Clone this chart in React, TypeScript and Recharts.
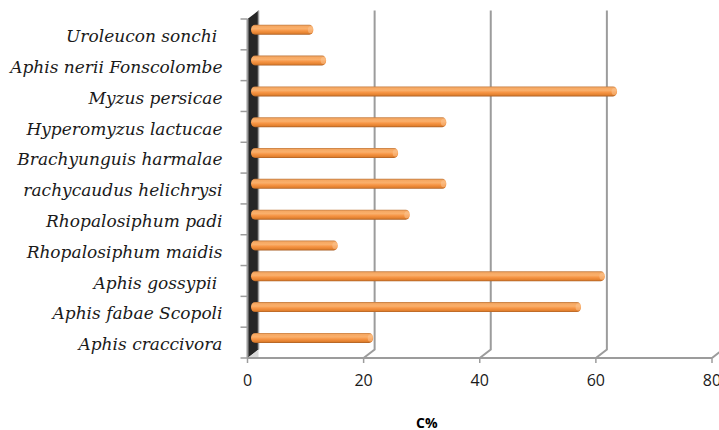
import { Bar, BarChart, CartesianGrid, Label, XAxis, YAxis } from 'recharts'

// aphid species, top to bottom as in the figure
const SPECIES = [
  'Uroleucon sonchi\u00a0',
  'Aphis nerii Fonscolombe',
  'Myzus persicae',
  'Hyperomyzus lactucae',
  'Brachyunguis harmalae',
  'rachycaudus helichrysi',
  'Rhopalosiphum padi',
  'Rhopalosiphum maidis',
  'Aphis gossypii\u00a0',
  'Aphis fabae Scopoli',
  'Aphis craccivora',
]
const CONTENT = [10.4, 12.6, 62.7, 33.3, 25.0, 33.3, 27.0, 14.6, 60.6, 56.5, 20.7]
const X_TICKS = [0, 20, 40, 60, 80]

const DEPTH_X = 11
const DEPTH_Y = 8.5
const GRID = '#9c9c9c'

const data = SPECIES.map((name, i) => ({ name, value: CONTENT[i] }))

function CylinderBar(props: any) {
  const { x, y, width, height } = props
  const bx = x + DEPTH_X / 2
  const by = y - DEPTH_Y / 2
  const r = height / 2
  return (
    <g>
      <defs>
        <linearGradient id="cyl" x1="0" y1="0" x2="0" y2="1">
          <stop offset="0" stopColor="#c07a40" />
          <stop offset="0.15" stopColor="#f6a862" />
          <stop offset="0.4" stopColor="#fab06c" />
          <stop offset="0.6" stopColor="#f79646" />
          <stop offset="0.85" stopColor="#e3812f" />
          <stop offset="1" stopColor="#a85e24" />
        </linearGradient>
      </defs>
      <rect x={bx - 2} y={by} width={width + 2} height={height} rx={4} ry={r} fill="url(#cyl)" />
      <ellipse cx={bx + width - 3} cy={by + r} rx={2.5} ry={r - 1.5} fill="#fcc592" opacity={0.55} />
    </g>
  )
}

function GridLine(props: any) {
  const { x1, y1, y2, index } = props
  if (index === 0) {
    // left side wall of the 3-D plot
    return (
      <g key={`wall`}>
        <polygon
          points={`${x1},${y1} ${x1 + DEPTH_X},${y1 - DEPTH_Y} ${x1 + DEPTH_X},${y2 - DEPTH_Y} ${x1},${y2}`}
          fill="#262626"
        />
        <line x1={x1 + DEPTH_X} y1={y1 - DEPTH_Y} x2={x1 + DEPTH_X} y2={y2 - DEPTH_Y} stroke={GRID} strokeWidth={1.5} />
        <polygon
          points={`${x1},${y2} ${x1 + DEPTH_X},${y2 - DEPTH_Y} ${x1 + DEPTH_X},${y2}`}
          fill="#d9d9d9"
        />
      </g>
    )
  }
  return (
    <path
      key={`grid-${index}`}
      d={`M${x1 + DEPTH_X},${y1 - DEPTH_Y} L${x1 + DEPTH_X},${y2 - DEPTH_Y} L${x1},${y2}`}
      fill="none"
      stroke={GRID}
      strokeWidth={2}
    />
  )
}

function SpeciesTick(props: any) {
  const { x, y, payload, index } = props
  const half = payload.offset || 15.4
  return (
    <g>
      <line x1={x + 18} y1={y - half} x2={x + 25} y2={y - half} stroke={GRID} strokeWidth={1.5} />
      {index === SPECIES.length - 1 && (
        <line x1={x + 18} y1={y + half} x2={x + 25} y2={y + half} stroke={GRID} strokeWidth={1.5} />
      )}
      <text
        x={x}
        y={y}
        dy="0.45em"
        textAnchor="end"
        fontFamily="DejaVu Serif"
        fontStyle="italic"
        fontSize={17}
        fill="#1a1a1a"
      >
        {payload.value}
      </text>
    </g>
  )
}

export default function App() {
  return (
    <div style={{ position: 'absolute', left: 0, top: 0 }}>
      <BarChart
        width={719}
        height={430}
        data={data}
        layout="vertical"
        margin={{ top: 19, right: 7, bottom: 32, left: 0 }}
        barSize={10}
      >
        <CartesianGrid horizontal={false} vertical={GridLine} />
        <XAxis
          type="number"
          domain={[0, 80]}
          ticks={X_TICKS}
          interval={0}
          height={40}
          axisLine={{ stroke: GRID, strokeWidth: 2 }}
          tickLine={{ stroke: GRID, strokeWidth: 1.5 }}
          tickSize={5}
          tickMargin={12}
          tick={{ fill: '#1a1a1a', fontSize: 16, fontFamily: 'Open Sans' }}
        >
          <Label
            value="C%"
            position="bottom"
            offset={20}
            dx={-53}
            style={{ fontFamily: 'Open Sans', fontWeight: 700, fontSize: 14, fill: '#000' }}
          />
        </XAxis>
        <YAxis
          type="category"
          dataKey="name"
          width={247.5}
          interval={0}
          axisLine={{ stroke: GRID, strokeWidth: 2 }}
          tickLine={false}
          tickSize={7}
          tickMargin={18}
          tick={<SpeciesTick />}
        />
        <Bar dataKey="value" shape={<CylinderBar />} isAnimationActive={false} />
      </BarChart>
    </div>
  )
}
